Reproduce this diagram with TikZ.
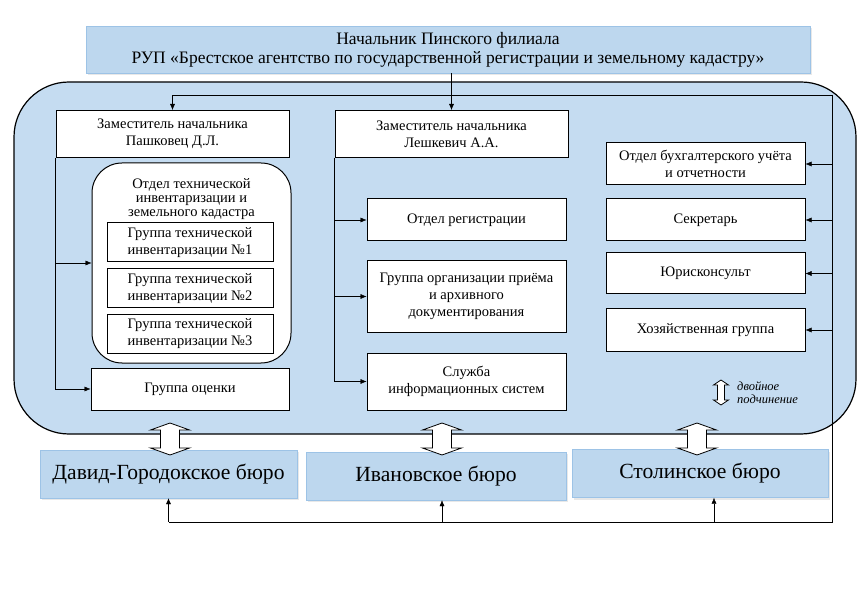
\documentclass[tikz,border=0pt]{standalone}
\usepackage{fontspec}
\setmainfont{Liberation Serif}
\usetikzlibrary{positioning,arrows.meta,shadows}
\definecolor{paneblue}{HTML}{C5DCF1}
\definecolor{headblue}{HTML}{BDD7EE}
\definecolor{headline}{HTML}{9DC3E6}
\begin{document}
\begin{tikzpicture}[x=1pt,y=-1pt,
  >={Latex[length=6pt,width=5pt]},
  unit/.style={draw,fill=white,line width=1pt,align=center,inner sep=1pt,
    font=\fontsize{14.5}{17}\selectfont},
  head/.style={draw=headline,fill=headblue,align=center,
    drop shadow={shadow xshift=1.5pt,shadow yshift=-2pt,fill=black!18}},
  bureau/.style={head,font=\fontsize{21.6}{24}\selectfont,minimum height=48pt},
  grp/.style={unit,minimum width=166pt,minimum height=39pt}]
  \useasboundingbox (0,0) rectangle (868,596);
  \node[draw,fill=paneblue,rounded corners=55pt,line width=1.2pt,
    minimum width=842pt,minimum height=352pt] (panel) at (435,258) {};
  \node[head,minimum width=724pt,minimum height=47pt,
    font=\fontsize{17.5}{19}\selectfont] (chief) at (448,49.5)
    {Начальник Пинского филиала\\РУП «Брестское агентство по государственной регистрации и земельному кадастру»};
  % left branch
  \node[unit,minimum width=233pt,minimum height=47pt] (depP) at (172.5,134)
    {Заместитель начальника\\Пашковец Д.Л.};
  \node[unit,rounded corners=30pt,minimum width=199pt,minimum height=200pt] (otdT) at (191.5,263) {};
  \node[align=center,inner sep=0pt,font=\fontsize{14.5}{14}\selectfont,below=16pt of otdT.north] (otdTlbl)
    {Отдел технической\\инвентаризации и\\земельного кадастра};
  \node[grp] (grp1) at (190,242.5) {Группа технической\\инвентаризации №1};
  \node[grp] (grp2) at (190,288.5) {Группа технической\\инвентаризации №2};
  \node[grp] (grp3) at (190,334) {Группа технической\\инвентаризации №3};
  \node[unit,minimum width=198pt,minimum height=42pt] (ocen) at (190,389) {Группа оценки};
  % middle branch
  \node[unit,minimum width=233pt,minimum height=47pt] (depL) at (451.5,134)
    {Заместитель начальника\\Лешкевич А.А.};
  \node[unit,minimum width=199pt,minimum height=42pt] (reg) at (466.5,220) {Отдел регистрации};
  \node[unit,minimum width=199pt,minimum height=71pt] (arch) at (466.5,296.5)
    {Группа организации приёма\\и архивного\\документирования};
  \node[unit,minimum width=199pt,minimum height=57pt] (ssys) at (466.5,381.5)
    {Служба\\информационных систем};
  % right column
  \node[unit,minimum width=199pt,minimum height=42pt] (acc) at (705.5,164)
    {Отдел бухгалтерского учёта\\и отчетности};
  \node[unit,minimum width=199pt,minimum height=42pt] (sec) at (705.5,220) {Секретарь};
  \node[unit,minimum width=199pt,minimum height=41pt] (jur) at (705.5,273.5) {Юрисконсульт};
  \node[unit,minimum width=199pt,minimum height=42pt] (hoz) at (705.5,330) {Хозяйственная группа};
  % bureaus
  \node[bureau,minimum width=257pt] (bur1) at (168.5,474) {Давид-Городокское бюро};
  \node[bureau,minimum width=260pt] (bur2) at (436,476) {Ивановское бюро};
  \node[bureau,minimum width=256pt] (bur3) at (700,473.5) {Столинское бюро};
  % connectors
  \coordinate (busR) at (832,95);
  \coordinate (busB) at (832,522);
  \draw[->] (chief.south -| depL.north) -- (depL.north);
  \draw[->] (busR) -| (depP.north);
  \draw (busR) -- (busB) -- (busB -| bur1.south);
  \draw[->] (bur1.south |- busB) -- (bur1.south);
  \draw[->] ([xshift=6pt]bur2.south |- busB) -- ([xshift=6pt]bur2.south);
  \draw[->] ([xshift=14pt]bur3.south |- busB) -- ([xshift=14pt]bur3.south);
  \foreach \n in {acc,sec,jur,hoz}
    \draw[->] (\n.east -| busR) -- (\n.east);
  \draw[->] (depP.south west) |- (ocen.west);
  \draw[->] (depP.south west |- otdT.west) -- (otdT.west);
  \draw[->] (depL.south west) |- (ssys.west);
  \draw[->] (depL.south west |- reg.west) -- (reg.west);
  \draw[->] (depL.south west |- arch.west) -- (arch.west);
  % double arrows
  \foreach \x in {170,442,697}
    \draw[fill=white,line width=0.8pt] (\x,423) -- ++(19.5,7) -- ++(-10,0) -- ++(0,18)
      -- ++(10,0) -- (\x,455) -- ++(-19.5,-7) -- ++(10,0) -- ++(0,-18) -- ++(-10,0) -- cycle;
  \draw[fill=white,line width=0.8pt] (721,380) -- ++(7.5,5) -- ++(-4,0) -- ++(0,15)
    -- ++(4,0) -- (721,405) -- ++(-7.5,-5) -- ++(4,0) -- ++(0,-15) -- ++(-4,0) -- cycle;
  \node[anchor=west,align=left,inner sep=0pt,font=\itshape\fontsize{12.5}{13}\selectfont]
    (legend) at (737,393) {двойное\\подчинение};
\end{tikzpicture}
\end{document}
